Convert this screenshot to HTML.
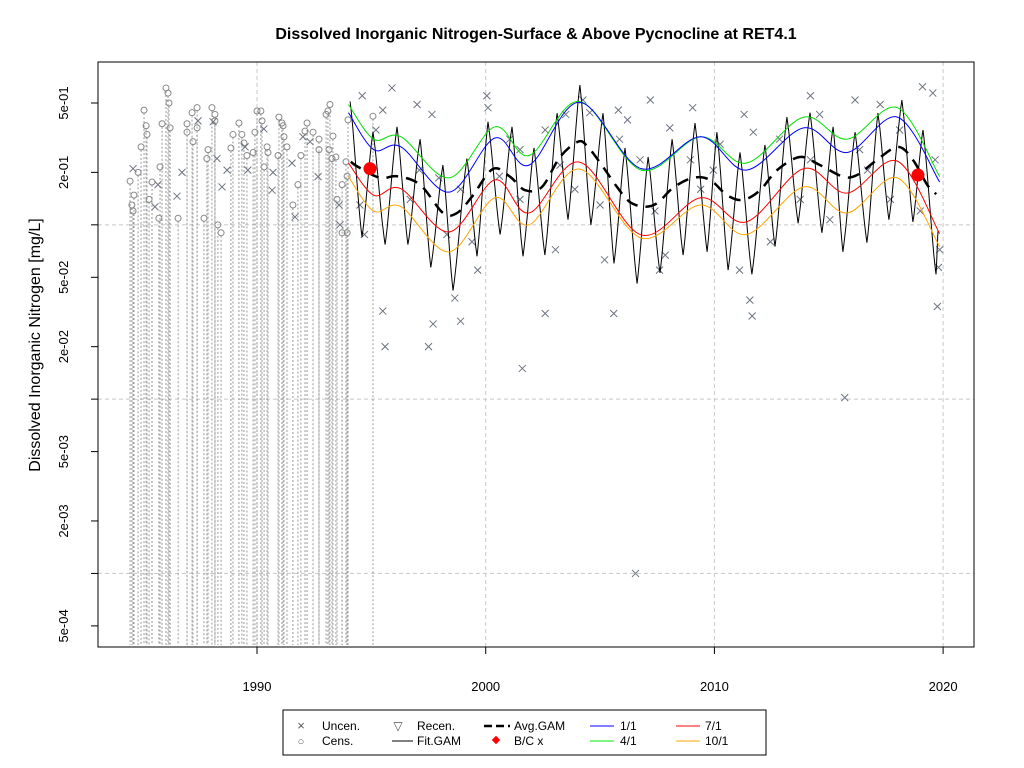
<!DOCTYPE html>
<html><head><meta charset="utf-8"><style>
body{margin:0;background:#fff;}
svg{display:block;font-family:"Liberation Sans",Arial,sans-serif;}
</style></head><body>
<svg id="chart" width="1024" height="768" viewBox="0 0 1024 768" xmlns="http://www.w3.org/2000/svg">
<rect width="1024" height="768" fill="#fff"/>
<text x="536" y="39" text-anchor="middle" font-size="16" font-weight="bold">Dissolved Inorganic Nitrogen-Surface &amp; Above Pycnocline at RET4.1</text>
<text transform="translate(40,345) rotate(-90)" text-anchor="middle" font-size="16">Dissolved Inorganic Nitrogen [mg/L]</text>
<g id="grid"></g><g id="cens"></g><g id="uncen"></g><g id="lines"></g><g id="axes"></g>
<g>
<rect x="283" y="710" width="483" height="45" fill="#fff" stroke="#000"/>
<text x="301" y="730" text-anchor="middle" font-size="13" fill="#555">×</text><text x="322" y="730" font-size="12">Uncen.</text>
<text x="301" y="745" text-anchor="middle" font-size="11" fill="#555">○</text><text x="322" y="745" font-size="12">Cens.</text>
<text x="398" y="730" text-anchor="middle" font-size="12" fill="#555">▽</text><text x="417" y="730" font-size="12">Recen.</text>
<line x1="392" y1="741" x2="413" y2="741" stroke="#000"/><text x="417" y="745" font-size="12">Fit.GAM</text>
<line x1="484" y1="726" x2="510" y2="726" stroke="#000" stroke-width="2.5" stroke-dasharray="8,4"/><text x="514" y="730" font-size="12">Avg.GAM</text>
<rect x="493" y="737" width="6" height="6" fill="red" transform="rotate(45 496 740)"/><text x="514" y="745" font-size="12">B/C x</text>
<line x1="590" y1="726" x2="614" y2="726" stroke="blue"/><text x="620" y="730" font-size="12">1/1</text>
<line x1="590" y1="741" x2="614" y2="741" stroke="#0e0"/><text x="620" y="745" font-size="12">4/1</text>
<line x1="676" y1="726" x2="700" y2="726" stroke="red"/><text x="705" y="730" font-size="12">7/1</text>
<line x1="676" y1="741" x2="700" y2="741" stroke="orange"/><text x="705" y="745" font-size="12">10/1</text>
</g>
</svg>
<script>
const xTicks=[1990,2000,2010,2020];
const yTickVals=[0.5,0.2,0.05,0.02,0.005,0.002,0.0005];
const yTickLabels=["5e-01","2e-01","5e-02","2e-02","5e-03","2e-03","5e-04"];
const yGridVals=[0.1,0.01,0.001];
const knotYears=[1994.0,1995.1,1996.3,1998.4,2000.4,2001.9,2004.1,2006.8,2009.4,2011.4,2013.9,2015.8,2018.0,2019.85];
const green41=[0.49,0.31,0.32,0.186,0.365,0.25,0.51,0.206,0.32,0.226,0.415,0.31,0.47,0.189];
const blue11=[0.44,0.27,0.28,0.154,0.315,0.22,0.505,0.21,0.32,0.206,0.36,0.26,0.415,0.176];
const red71=[0.226,0.148,0.161,0.091,0.181,0.117,0.229,0.0875,0.143,0.104,0.21,0.152,0.232,0.089];
const orange101=[0.189,0.12,0.127,0.07,0.143,0.1,0.209,0.084,0.13,0.088,0.165,0.117,0.186,0.075];
const avgYears=[1994.1,1994.42,1995.38,1996.12,1997.13,1998.13,1998.75,1999.4,2000.31,2001.06,2001.72,2002.46,2003.25,2004.04,2004.47,2005.13,2005.74,2006.31,2006.97,2007.53,2008.19,2009.06,2009.81,2010.55,2011.25,2012.0,2012.74,2013.74,2014.62,2015.62,2016.24,2017.11,2018.03,2018.68,2019.3,2019.7];
const avgVals=[0.23,0.215,0.186,0.19,0.17,0.117,0.117,0.145,0.209,0.189,0.158,0.165,0.245,0.30,0.28,0.215,0.165,0.135,0.127,0.134,0.163,0.186,0.181,0.148,0.139,0.158,0.206,0.245,0.22,0.189,0.193,0.236,0.28,0.236,0.17,0.15];
const fitYears=[1994.07,1994.59,1995.07,1995.6,1996.12,1996.6,1997.13,1997.6,1998.13,1998.57,1999.18,1999.62,2000.1,2000.63,2001.15,2001.63,2002.11,2002.59,2003.12,2003.6,2004.12,2004.6,2005.13,2005.61,2006.09,2006.62,2007.1,2007.62,2008.15,2008.63,2009.15,2009.68,2010.11,2010.6,2011.12,2011.64,2012.21,2012.65,2013.17,2013.66,2014.18,2014.7,2015.19,2015.62,2016.15,2016.67,2017.15,2017.63,2018.2,2018.68,2019.12,2019.69,2019.78];
const fitVals=[0.51,0.085,0.34,0.077,0.365,0.077,0.31,0.057,0.22,0.042,0.24,0.066,0.39,0.088,0.365,0.066,0.276,0.067,0.437,0.107,0.634,0.1,0.437,0.06,0.276,0.046,0.245,0.053,0.31,0.067,0.384,0.07,0.34,0.055,0.26,0.052,0.287,0.075,0.415,0.102,0.44,0.09,0.365,0.07,0.34,0.079,0.437,0.107,0.52,0.104,0.35,0.052,0.093];
const bcYears=[1994.94,2018.9];
const bcVals=[0.21,0.193];
const uncYears=[1994.6,1995.5,1995.2,1995.9,1997.0,1997.65,1997.95,1995.5,1995.6,1997.7,1998.9,1998.65,1997.5,1998.3,2000.05,2000.1,2000.6,2001.05,1999.65,1999.4,2002.6,2001.6,2002.6,2003.5,2004.25,2004.55,2005.8,2005.6,2005.2,2006.2,2007.2,2008.05,2007.85,2007.6,2009.05,2009.95,2011.3,2011.7,2011.55,2011.65,2011.1,2012.85,2014.2,2014.6,2016.15,2016.7,2017.25,2019.1,2019.55,2019.85,2019.8,2019.75,2015.7,2006.55,2009.4,2001.5,2003.05,1996.7,1994.5,1994.7,2005.0,2012.45,2015.05,2017.7,2019.0,2019.65,2007.4,2013.75,2003.9,2008.95,2006.75,1998.9,2010.25,2016.35,2014.2,2001.5,1997.1,2003.25,2005.85,2018.1,
1984.58,1987.42,1988.08,1988.25,1986.72,1988.69,1988.47,1986.5,1985.54,1989.48,1989.6,1990.3,1990.66,1991.53,1991.66,1992.01,1992.32,1992.67,1993.59,1993.63,1990.7,1985.67];
const uncVals=[0.55,0.455,0.35,0.61,0.49,0.43,0.186,0.032,0.02,0.027,0.028,0.038,0.02,0.088,0.55,0.47,0.19,0.31,0.055,0.08,0.35,0.015,0.031,0.43,0.52,0.44,0.455,0.031,0.063,0.4,0.52,0.36,0.067,0.055,0.47,0.206,0.43,0.34,0.037,0.03,0.055,0.31,0.55,0.43,0.52,0.206,0.49,0.62,0.57,0.072,0.057,0.034,0.0102,0.001,0.16,0.14,0.072,0.14,0.13,0.088,0.13,0.08,0.107,0.14,0.12,0.236,0.12,0.14,0.16,0.236,0.236,0.16,0.29,0.27,0.236,0.27,0.206,0.22,0.31,0.35,
0.21,0.395,0.39,0.24,0.2,0.206,0.165,0.146,0.127,0.28,0.206,0.355,0.158,0.226,0.111,0.32,0.3,0.189,0.13,0.1,0.2,0.17];
const censYears=[1986.02,1986.11,1986.15,1985.06,1985.85,1986.2,1985.15,1985.19,1984.93,1984.45,1984.8,1984.62,1985.41,1985.76,1987.16,1987.38,1986.94,1987.38,1986.94,1987.2,1987.86,1988.03,1988.16,1988.16,1987.81,1987.68,1988.29,1988.43,1989.21,1988.95,1989.34,1988.86,1989.43,1989.56,1989.83,1990.0,1990.17,1989.91,1990.22,1990.44,1990.31,1990.48,1990.96,1991.09,1990.92,1991.14,1991.18,1991.31,1991.57,1991.79,1991.92,1992.19,1992.1,1992.45,1992.71,1992.71,1993.1,1993.02,1993.19,1993.32,1993.15,1993.28,1993.45,1993.72,1993.89,1993.94,1993.5,1993.72,1993.94,1984.53,1984.58,1986.55,1985.28,1985.71,1993.98,1995.07];
const censVals=[0.61,0.57,0.5,0.455,0.38,0.36,0.37,0.33,0.28,0.178,0.2,0.148,0.176,0.215,0.44,0.47,0.38,0.36,0.34,0.3,0.27,0.47,0.43,0.395,0.24,0.109,0.1,0.09,0.384,0.33,0.33,0.276,0.295,0.25,0.26,0.45,0.45,0.34,0.395,0.28,0.215,0.26,0.415,0.384,0.25,0.37,0.32,0.28,0.13,0.17,0.25,0.384,0.345,0.34,0.31,0.27,0.45,0.43,0.49,0.323,0.27,0.24,0.245,0.17,0.23,0.19,0.14,0.09,0.09,0.13,0.12,0.109,0.14,0.109,0.40,0.42];

const NS='http://www.w3.org/2000/svg';
const L=98,R=974,T=62,B=647;
function X(yr){return 257+(yr-1990)*22.87;}
function Y(v){return 103+Math.log10(0.5/v)*174.3;}
function mk(tag,attrs,parent){const e=document.createElementNS(NS,tag);for(const k in attrs)e.setAttribute(k,attrs[k]);parent.appendChild(e);return e;}
const grid=document.getElementById('grid'),axes=document.getElementById('axes'),cens=document.getElementById('cens'),unc=document.getElementById('uncen'),lines=document.getElementById('lines');

xTicks.forEach(t=>{
 const g=mk('line',{x1:X(t),x2:X(t),y1:T,y2:B,stroke:'#c8c8c8','stroke-dasharray':'4,3'},grid);
 
 
 const tk=mk('line',{x1:X(t),x2:X(t),y1:B,y2:B+7,stroke:'#000'},axes);
 
 
 const tx=mk('text',{x:X(t),y:691,'text-anchor':'middle','font-size':13},axes);
 tx.textContent=t;
 
 
});
yGridVals.forEach(v=>{
 const g=mk('line',{x1:L,x2:R,y1:Y(v),y2:Y(v),stroke:'#c8c8c8','stroke-dasharray':'4,3'},grid);
 
 
 const tk=mk('line',{x1:L-7,x2:L,y1:Y(v),y2:Y(v),stroke:'#000'},axes);
 
 
});
yTickVals.forEach((v,i)=>{
 const tk=mk('line',{x1:L-7,x2:L,y1:Y(v),y2:Y(v),stroke:'#000'},axes);
 
 
 const tx=mk('text',{transform:`translate(68,${Y(v)}) rotate(-90)`,'text-anchor':'middle','font-size':13},axes);
 tx.textContent=yTickLabels[i];
 
 
});
const frame=mk('rect',{x:L,y:T,width:R-L,height:B-T,fill:'none',stroke:'#000'},axes);



censYears.forEach((yr,i)=>{
 const ln=mk('line',{x1:X(yr),x2:X(yr),y1:Y(censVals[i])+3,y2:B-2,stroke:'#999','stroke-dasharray':'2,2'},cens);
 
 
 const c=mk('circle',{cx:X(yr),cy:Y(censVals[i]),r:3,fill:'none',stroke:'#888'},cens);
 
 
});
uncYears.forEach((yr,i)=>{
 const x=X(yr),y=Y(uncVals[i]);
 const p=mk('path',{d:`M${x-3.5},${y-3.5}L${x+3.5},${y+3.5}M${x-3.5},${y+3.5}L${x+3.5},${y-3.5}`,stroke:'#6c7480','stroke-width':1},unc);
 
 
});

function smoothPath(xs,vs){
 const P=xs.map((x,i)=>[X(x),Y(vs[i])]);
 let d=`M${P[0][0]},${P[0][1]}`;
 for(let i=0;i<P.length-1;i++){
  const p0=P[Math.max(0,i-1)],p1=P[i],p2=P[i+1],p3=P[Math.min(P.length-1,i+2)];
  const c1=[p1[0]+(p2[0]-p0[0])/6,p1[1]+(p2[1]-p0[1])/6];
  const c2=[p2[0]-(p3[0]-p1[0])/6,p2[1]-(p3[1]-p1[1])/6];
  d+=`C${c1[0]},${c1[1]} ${c2[0]},${c2[1]} ${p2[0]},${p2[1]}`;
 }
 return d;
}
function zigPath(xs,vs){
 let d='';
 for(let i=0;i<xs.length-1;i++){
  for(let k=0;k<=12;k++){
   const t=k/12,f=0.7*t+0.3*(1-Math.cos(Math.PI*t))/2;
   const yr=xs[i]+(xs[i+1]-xs[i])*t;
   const lv=Math.log10(vs[i])*(1-f)+Math.log10(vs[i+1])*f;
   d+=(d?'L':'M')+X(yr).toFixed(1)+','+Y(Math.pow(10,lv)).toFixed(1);
  }
 }
 return d;
}
const fit=mk('path',{d:zigPath(fitYears,fitVals),fill:'none',stroke:'#000','stroke-width':1},lines);


[[green41,'#00e000','line-4-1'],[blue11,'blue','line-1-1'],[red71,'red','line-7-1'],[orange101,'orange','line-10-1']].forEach(([vals,col,name])=>{
 const p=mk('path',{d:smoothPath(knotYears,vals),fill:'none',stroke:col,'stroke-width':1},lines);
 
 
});
const avg=mk('path',{d:smoothPath(avgYears,avgVals),fill:'none',stroke:'#000','stroke-width':2.5,'stroke-dasharray':'12,8'},lines);


bcYears.forEach((yr,i)=>{
 const c=mk('circle',{cx:X(yr),cy:Y(bcVals[i]),r:6.5,fill:'red'},lines);
 
 
});
</script>
</body></html>
